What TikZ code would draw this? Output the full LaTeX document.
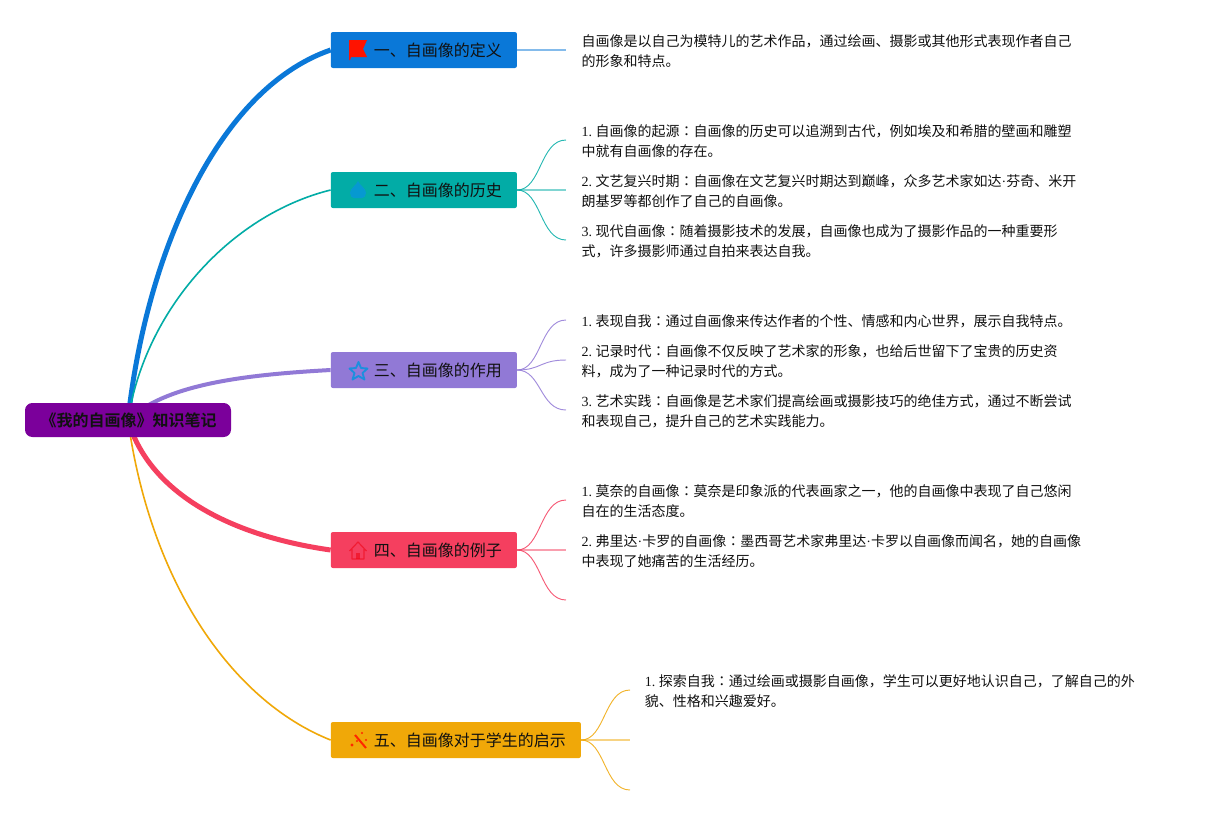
\documentclass[tikz,border=0pt]{standalone}
\usepackage{fontspec}
\setmainfont{Liberation Serif}
\newfontfamily\cjk{Noto Sans CJK SC}
\newfontfamily\cjktc{Noto Sans CJK TC}
\newfontfamily\cjkb{Noto Sans CJK SC Bold}
\definecolor{cblue}{HTML}{0A78D8}
\definecolor{cteal}{HTML}{02ACA6}
\definecolor{cpurple}{HTML}{9179D6}
\definecolor{cred}{HTML}{F53F5F}
\definecolor{corange}{HTML}{F0A808}
\definecolor{croot}{HTML}{7B009B}
\definecolor{ctext}{HTML}{111111}
\pgfdeclarelayer{bgl}
\pgfdeclarelayer{conn}
\pgfsetlayers{bgl,conn,main}
\newcommand{\zh}[1]{{\cjk #1}}
\newcommand{\Co}{{\cjktc ：}}
\newcommand{\Nn}[1]{#1. \kern-0.8pt}
\tikzset{
  x=0.75pt,y=-0.75pt,
  topicbox/.style={rectangle,rounded corners=1.5pt,minimum height=27pt,inner sep=0pt,anchor=west,text=ctext,font=\fontsize{12pt}{15pt}\cjk,align=left},
  rootbox/.style={rectangle,rounded corners=5.5pt,fill=croot,minimum height=25.5pt,minimum width=154.5pt,inner sep=0pt,text=ctext,font=\fontsize{12pt}{15pt}\cjkb},
  leaf/.style={anchor=west,align=left,inner sep=0pt,text=ctext,font=\fontsize{10.5pt}{15pt}\selectfont},
  sub line/.style={line width=0.7pt,opacity=0.85},
  stem line/.style={line width=1.1pt,opacity=0.5}
}
\begin{document}
\begin{tikzpicture}
\useasboundingbox (0,0) rectangle (1205,815);
\begin{pgfonlayer}{bgl}
\fill[white] (0,0) rectangle (1205,815);
\end{pgfonlayer}

\node[rootbox] (root) at (128,420) {\hspace{1pt}《我的自画像》知识笔记};

\node[topicbox,fill=cblue,minimum width=139.5pt] (t1) at (330.6,50) {\hspace{31.9pt}一、自画像的定义\hspace{11pt}};
\node[topicbox,fill=cteal,minimum width=139.5pt] (t2) at (330.6,190) {\hspace{31.9pt}二、自画像的历史\hspace{11pt}};
\node[topicbox,fill=cpurple,minimum width=139.5pt] (t3) at (330.6,370) {\hspace{31.9pt}三、自画像的作用\hspace{11pt}};
\node[topicbox,fill=cred,minimum width=139.5pt] (t4) at (330.6,550) {\hspace{31.9pt}四、自画像的例子\hspace{11pt}};
\node[topicbox,fill=corange,minimum width=187.5pt] (t5) at (330.6,740) {\hspace{31.9pt}五、自画像对于学生的启示\hspace{11pt}};

% icons
\fill[red!85!orange] (349,40) -- (367,40) -- (363,49) -- (367,57) -- (351,57) -- (350,60) -- (349,60) -- cycle;
\fill[cblue!80!cyan,opacity=.75] (358,181) .. controls (360,186) and (366,188) .. (366,193) .. controls (366,196) and (364,198) .. (362,198) -- (354,198) .. controls (352,198) and (350,196) .. (350,193) .. controls (350,188) and (356,186) .. (358,181) -- cycle;
\draw[cblue!80!cyan,line width=1.4pt,line join=round,opacity=.85] (358.5,362) -- (361,368) -- (367.5,368.5) -- (362.5,373) -- (364.5,379.5) -- (358.5,376) -- (352.5,379.5) -- (354.5,373) -- (349.5,368.5) -- (356,368) -- cycle;
\draw[red!75!purple,line width=0.9pt,line join=round,opacity=.55] (349.5,551) -- (358,542) -- (366.5,551) (352,549) -- (352,559) -- (364,559) -- (364,549);
\fill[red!75!purple,opacity=.55] (356,553) rectangle (360,559);
\draw[red!70!orange,line width=1.5pt] (355,735) -- (366,748);
\fill[red!70!orange] (352,745) circle[radius=1.6] (362,733) circle[radius=1.2] (366,740) circle[radius=1.1] (357,741) circle[radius=1.1];

% leaves
\node[leaf] (l1) at (581.3,51) {\zh{自画像是以自己为模特儿的艺术作品，通过绘画、摄影或其他形式表现作者自己}\\\zh{的形象和特点。}};

\node[leaf] (l21) at (581.3,141) {\Nn{1}\zh{自画像的起源}\Co\zh{自画像的历史可以追溯到古代，例如埃及和希腊的壁画和雕塑}\\\zh{中就有自画像的存在。}};
\node[leaf] (l22) at (581.3,191) {\Nn{2}\zh{文艺复兴时期}\Co\zh{自画像在文艺复兴时期达到巅峰，众多艺术家如达}·\zh{芬奇、米开}\\\zh{朗基罗等都创作了自己的自画像。}};
\node[leaf] (l23) at (581.3,241) {\Nn{3}\zh{现代自画像}\Co\zh{随着摄影技术的发展，自画像也成为了摄影作品的一种重要形}\\\zh{式，许多摄影师通过自拍来表达自我。}};

\node[leaf] (l31) at (581.3,321) {\Nn{1}\zh{表现自我}\Co\zh{通过自画像来传达作者的个性、情感和内心世界，展示自我特点。}};
\node[leaf] (l32) at (581.3,361) {\Nn{2}\zh{记录时代}\Co\zh{自画像不仅反映了艺术家的形象，也给后世留下了宝贵的历史资}\\\zh{料，成为了一种记录时代的方式。}};
\node[leaf] (l33) at (581.3,411) {\Nn{3}\zh{艺术实践}\Co\zh{自画像是艺术家们提高绘画或摄影技巧的绝佳方式，通过不断尝试}\\\zh{和表现自己，提升自己的艺术实践能力。}};

\node[leaf] (l41) at (581.3,501) {\Nn{1}\zh{莫奈的自画像}\Co\zh{莫奈是印象派的代表画家之一，他的自画像中表现了自己悠闲}\\\zh{自在的生活态度。}};
\node[leaf] (l42) at (581.3,551) {\Nn{2}\zh{弗里达}·\zh{卡罗的自画像}\Co\zh{墨西哥艺术家弗里达}·\zh{卡罗以自画像而闻名，她的自画像}\\\zh{中表现了她痛苦的生活经历。}};

\node[leaf] (l51) at (644.5,691) {\Nn{1}\zh{探索自我}\Co\zh{通过绘画或摄影自画像，学生可以更好地认识自己，了解自己的外}\\\zh{貌、性格和兴趣爱好。}};

% connector end points
\coordinate (e1) at (566,50);
\coordinate (e21) at (566,140);
\coordinate (e22) at (566,190);
\coordinate (e23) at (566,240);
\coordinate (e31) at (566,320);
\coordinate (e32) at (566,360);
\coordinate (e33) at (566,410);
\coordinate (e41) at (566,500);
\coordinate (e42) at (566,550);
\coordinate (e43) at (566,600);
\coordinate (e51) at (630,690);
\coordinate (e52) at (630,740);
\coordinate (e53) at (630,790);

\begin{pgfonlayer}{conn}
\draw[cblue,line width=3.75pt] (root.center) .. controls (145,260) and (215,90) .. (t1.west);
\draw[cteal,line width=1.2pt] (root.center) .. controls (145,310) and (230,215) .. (t2.west);
\draw[cpurple,line width=3pt] (root.center) .. controls (165,385) and (240,375) .. (t3.west);
\draw[cred,line width=3.75pt] (root.center) .. controls (148,490) and (225,535) .. (t4.west);
\draw[corange,line width=1.2pt] (root.center) .. controls (150,580) and (230,700) .. (t5.west);

\draw[cblue,stem line] (t1.east) -- (e1);

\draw[cteal,stem line] (t2.east) -- (e22);
\draw[cteal,sub line] (t2.east) .. controls +(24,0) and +(-26,0) .. (e21);
\draw[cteal,sub line] (t2.east) .. controls +(24,0) and +(-26,0) .. (e23);

\draw[cpurple,sub line] (t3.east) .. controls +(24,0) and +(-26,0) .. (e31);
\draw[cpurple,sub line] (t3.east) .. controls +(24,0) and +(-26,0) .. (e32);
\draw[cpurple,sub line] (t3.east) .. controls +(24,0) and +(-26,0) .. (e33);

\draw[cred,sub line] (t4.east) .. controls +(24,0) and +(-26,0) .. (e41);
\draw[cred,stem line] (t4.east) -- (e42);
\draw[cred,sub line] (t4.east) .. controls +(24,0) and +(-26,0) .. (e43);

\draw[corange,sub line] (t5.east) .. controls +(24,0) and +(-26,0) .. (e51);
\draw[corange,stem line] (t5.east) -- (e52);
\draw[corange,sub line] (t5.east) .. controls +(24,0) and +(-26,0) .. (e53);
\end{pgfonlayer}
\end{tikzpicture}
\end{document}
